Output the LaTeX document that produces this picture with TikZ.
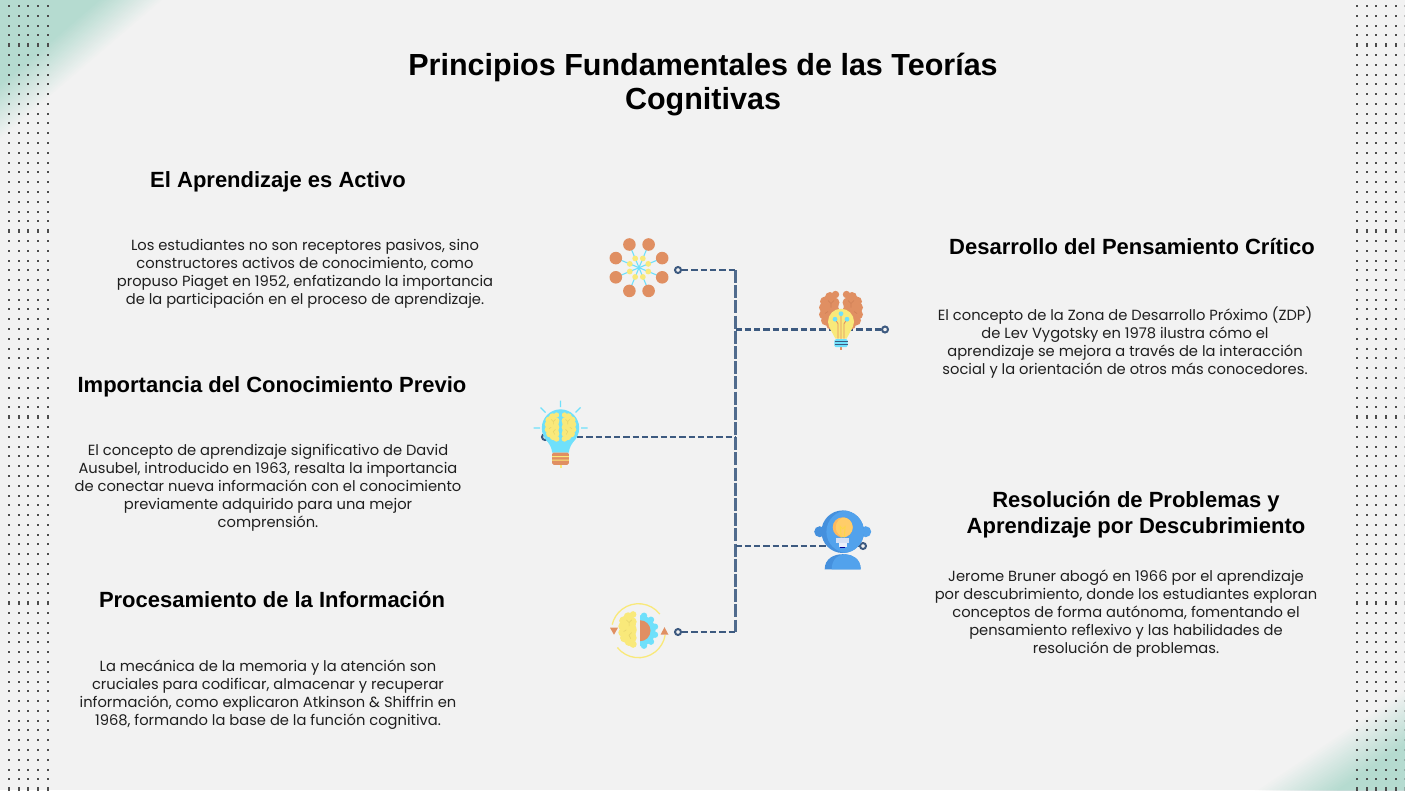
\documentclass[tikz,border=0pt]{standalone}
\usepackage{fontspec}
\setmainfont{Poppins}
\newfontfamily\headfont{Liberation Sans}
\definecolor{paper}{HTML}{F2F2F2}
\definecolor{mint}{HTML}{B5DBD0}
\definecolor{wire}{HTML}{3D5A80}
\definecolor{peach}{HTML}{E08F62}
\definecolor{peachdark}{HTML}{CF8056}
\definecolor{sky}{HTML}{6FE0FB}
\definecolor{lemon}{HTML}{F9E97A}
\definecolor{lemondark}{HTML}{E6D56C}
\definecolor{headblue}{HTML}{4590DD}
\definecolor{headlight}{HTML}{52A2EC}
\definecolor{bulbdark}{HTML}{FFB95F}
\definecolor{bulblight}{HTML}{FFCD69}
\definecolor{bulbbase}{HTML}{D5E0F5}
\tikzset{
  titletext/.style={font=\headfont\bfseries\fontsize{30.5}{34}\selectfont, align=center, inner sep=0pt, text=black},
  headtext/.style={font=\headfont\bfseries\fontsize{22}{26}\selectfont, align=center, inner sep=0pt, text=black},
  bodytext/.style={font=\fontsize{14.7}{18}\selectfont, align=center, inner sep=0pt, text=black!88},
  ringdot/.style={circle, draw=wire, fill=paper, line width=2pt, minimum size=6pt, inner sep=0pt},
  branch/.style={wire, line width=2.4pt, dash pattern=on 6.3pt off 3pt},
  trunk/.style={wire!90!white, line width=2.6pt, dash pattern=on 13pt off 2.2pt},
  griddot/.style={black!70}
}
\newcommand{\brainlobe}[3]{
  \foreach \a/\b/\r in {5.5/-17/3.7, 11/-14.5/5, 16/-10/5, 17.5/-4/4.5, 17.5/3/4.5, 15/9/5, 10/13/5, 5.5/16/4, 9/0/7.5, 11/-6/8.5, 11/6/8.5, 6.5/-9/5, 6.5/9/5}
    \fill[#1] ({#3*\a},\b) circle (\r);
  \draw[#2, line width=.6pt] ({#3*7},-11) -- ({#3*10},-8) -- ({#3*13},-11) ({#3*10},-8) -- ({#3*10},-4);
  \draw[#2, line width=.6pt] ({#3*13},0) -- ({#3*16},2) ({#3*7},3) -- ({#3*10},6) -- ({#3*8},10);
}
\begin{document}
\begin{tikzpicture}[x=1pt, y=-1pt]
\useasboundingbox (0,0) rectangle (1405,790);
\fill[paper] (0,0) rectangle (1405,790);

\foreach \s in {107,105,...,65} {
  \pgfmathsetmacro{\p}{(107-\s)/42*100}
  \fill[mint!\p!paper] (0,0) -- ({\s/.65},0) -- (0,{\s/.76}) -- cycle;
}
\foreach \s in {84,82,...,38} {
  \pgfmathsetmacro{\p}{(84-\s)/46*100}
  \fill[mint!\p!paper] (1405,790) -- ({1405-\s/.56},790) -- (1405,{790-\s/.83}) -- cycle;
}
\foreach \i in {0,...,80} {
  \pgfmathtruncatemacro{\m}{mod(\i,19)}
  \pgfmathsetmacro{\h}{\m==4 ? 2 : 1}
  \foreach \c in {0,...,4} {
    \fill[griddot] ({9+9.67*\c-.9},{6+9.79*\i-\h}) rectangle ({9+9.67*\c+.9},{6+9.79*\i+\h});
    \fill[griddot] ({1357+9.67*\c-.9},{6+9.79*\i-\h}) rectangle ({1357+9.67*\c+.9},{6+9.79*\i+\h});
  }
  \fill[griddot, opacity=.3] (1404,{6+9.79*\i-\h}) rectangle (1405,{6+9.79*\i+\h});
}

\node[titletext] (title) at (703,85) {Principios Fundamentales de las Teorías\\Cognitivas};

\node[headtext] (activohead) at (278,182) {El Aprendizaje es Activo};
\node[bodytext] (activobody) at (305,274) {Los estudiantes no son receptores pasivos, sino\\constructores activos de conocimiento, como\\propuso Piaget en 1952, enfatizando la importancia\\de la participación en el proceso de aprendizaje.};
\node[headtext] (previohead) at (272,387) {Importancia del Conocimiento Previo};
\node[bodytext] (previobody) at (268,487.5) {El concepto de aprendizaje significativo de David\\Ausubel, introducido en 1963, resalta la importancia\\de conectar nueva información con el conocimiento\\previamente adquirido para una mejor\\comprensión.};
\node[headtext] (infohead) at (272,600) {Procesamiento de la Información};
\node[bodytext] (infobody) at (268,694.5) {La mecánica de la memoria y la atención son\\cruciales para codificar, almacenar y recuperar\\información, como explicaron Atkinson \& Shiffrin en\\1968, formando la base de la función cognitiva.};
\node[headtext] (criticohead) at (1132,247) {Desarrollo del Pensamiento Crítico};
\node[bodytext] (criticobody) at (1125,342.5) {El concepto de la Zona de Desarrollo Próximo (ZDP)\\de Lev Vygotsky en 1978 ilustra cómo el\\aprendizaje se mejora a través de la interacción\\social y la orientación de otros más conocedores.};
\node[headtext] (resolhead) at (1136,514.5) {Resolución de Problemas y\\Aprendizaje por Descubrimiento};
\node[bodytext] (resolbody) at (1126,614) {Jerome Bruner abogó en 1966 por el aprendizaje\\por descubrimiento, donde los estudiantes exploran\\conceptos de forma autónoma, fomentando el\\pensamiento reflexivo y las habilidades de\\resolución de problemas.};

\coordinate (j1) at (735.5,270);
\coordinate (j2) at (735.5,329.5);
\coordinate (j3) at (735.5,437);
\coordinate (j4) at (735.5,546);
\coordinate (j5) at (735.5,632);
\node[ringdot] (r1) at (678,270) {};
\node[ringdot] (r2) at (885,329.5) {};
\node[ringdot] (r3) at (545,437) {};
\node[ringdot] (r4) at (863,546) {};
\node[ringdot] (r5) at (678,632) {};
\draw[trunk] (j1) -- (j5);
\draw[branch] (r1) -- (j1);
\draw[branch] (j2) -- (r2);
\draw[branch] (r3) -- (j3);
\draw[branch] (j4) -- (r4);
\draw[branch] (r5) -- (j5);

\begin{scope}[shift={(639,267.7)}]
\foreach \k in {0,...,7} {
  \draw[sky, line width=1.1pt] (0,0) -- ({22.5+45*\k}:20);
  \fill[lemon] ({22.5+45*\k}:10) circle (2.9);
  \fill[peach] ({22.5+45*\k}:25.1) circle (6.3);
}
\end{scope}

\begin{scope}[shift={(841,311.5)}]
\brainlobe{peach}{peachdark}{1}
\brainlobe{peach}{peachdark}{-1}
\end{scope}
\begin{scope}[shift={(841,321.7)}]
\fill[lemon] (0,0) circle (13);
\fill[lemon] (-11,7) -- (-5.5,17) -- (5.5,17) -- (11,7) -- cycle;
\draw[peach, line width=.9pt] (0,-8) -- (0,24) (-6,-2.5) -- (-3,2) -- (-3,17) (6,-2.5) -- (3,2) -- (3,17);
\draw[peach, line width=1.2pt] (0,24) -- (0,28.5);
\fill[sky, rounded corners=1.5pt] (-6.7,17.5) rectangle (6.7,25.5);
\draw[wire, line width=.9pt] (-6.5,19.5) -- (6.5,19.5) (-6.5,22.5) -- (6.5,22.5);
\foreach \a/\b in {0/-8, -6/-2.5, 6/-2.5}
  \fill[sky] (\a,\b) circle (2.4);
\end{scope}

\begin{scope}[shift={(560.5,428)}]
\draw[sky, line width=1.1pt] (0,-27.5) -- (0,-21) (-20,-20.5) -- (-15,-15.5) (20,-20.5) -- (15,-15.5) (-27,0) -- (-20.5,0) (20.5,0) -- (27,0);
\fill[sky] (0,0) circle (18.7);
\fill[sky] (-15,11) .. controls (-11,16) and (-9,19) .. (-8.3,24.5) -- (8.3,24.5) .. controls (9,19) and (11,16) .. (15,11) -- cycle;
\begin{scope}[scale=.72, shift={(0,-1)}]
\brainlobe{lemon}{lemondark}{1}
\brainlobe{lemon}{lemondark}{-1}
\end{scope}
\fill[lemon] (-1,36) rectangle (1,40);
\fill[peach, rounded corners=1.5pt] (-8.3,24.5) rectangle (8.3,36.8);
\fill[lemon] (-8.3,28) rectangle (8.3,29) (-8.3,31.5) rectangle (8.3,32.5);
\end{scope}

\begin{scope}[shift={(638.5,630.7)}, line width=1.3pt]
\draw[lemon] (-38:27) arc[start angle=-38, end angle=-167, radius=27];
\draw[lemon] (141.6:27) arc[start angle=141.6, end angle=9.5, radius=27];
\fill[peach] (-28.5,-3) -- (-20.5,-3) -- (-24.5,4) -- cycle;
\fill[peach] (22,4) -- (30,4) -- (26,-3.5) -- cycle;
\begin{scope}[scale=.9, shift={(-.5,-1)}]
\brainlobe{lemon}{lemondark}{-1}
\end{scope}
\begin{scope}[shift={(1.5,0)}]
\clip (0,-25) rectangle (25,25);
\fill[sky] (0,0) circle (15.5);
\foreach \t in {-75,-45,...,75}
  \fill[sky] (\t:15.5) circle (3.2);
\fill[peach] (0,0) circle (10.5);
\end{scope}
\end{scope}

\begin{scope}[shift={(842.7,531.7)}]
\fill[headblue] (-23,0) circle (5.5);
\fill[headlight] (23,0) circle (5.5);
\fill[headblue] (-18,37.6) .. controls (-18,27) and (-9,22.5) .. (0,22.5) .. controls (9,22.5) and (18,27) .. (18,37.6) -- cycle;
\fill[headlight] (-11,37.6) .. controls (-11,27) and (-4,22.5) .. (3,22.5) .. controls (10,23) and (18,27) .. (18,37.6) -- cycle;
\fill[headblue] (0,0) circle (21.3);
\begin{scope}
\clip (0,0) circle (21.3);
\fill[headlight] (5,0) circle (21.3);
\end{scope}
\fill[bulbdark] (0,-4.4) circle (10);
\begin{scope}
\clip (0,-4.4) circle (10);
\fill[bulblight] (3,-4.4) circle (10);
\end{scope}
\draw[yellow!30!bulblight, line width=.9pt] (-2.5,-6) -- (-1.5,6) (2.5,-6) -- (1.5,6) (-2.5,-5) -- (0,-3) -- (2.5,-5);
\fill[bulbbase] (-6.7,6.6) rectangle (6.7,11.6);
\fill[bulbbase!50!white] (-4,11.6) rectangle (4,15);
\fill[blue!60!black] (-2.6,15) rectangle (2.6,16.5);
\end{scope}
\end{tikzpicture}
\end{document}
